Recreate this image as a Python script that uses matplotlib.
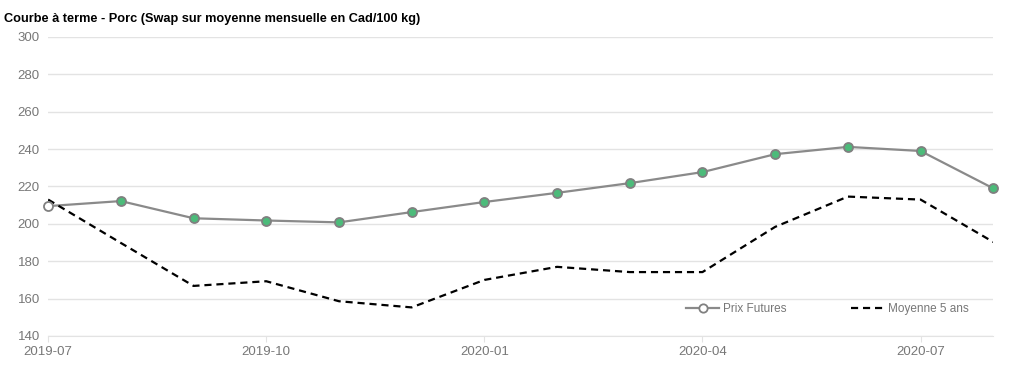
import matplotlib.pyplot as plt

months = ["2019-07", "2019-08", "2019-09", "2019-10", "2019-11", "2019-12", "2020-01",
          "2020-02", "2020-03", "2020-04", "2020-05", "2020-06", "2020-07", "2020-08"]
prix_futures = [209.5, 212.2, 203.0, 201.8, 200.8, 206.3, 211.7,
                216.6, 221.8, 227.7, 237.3, 241.2, 239.0, 219.0]
moyenne_5ans = [213.0, 189.8, 166.8, 169.3, 158.6, 155.3, 170.0,
                177.0, 174.2, 174.2, 198.4, 214.6, 213.0, 190.3]
tick_months = ["2019-07", "2019-10", "2020-01", "2020-04", "2020-07"]

plt.rcParams['font.family'] = ['Liberation Sans', 'DejaVu Sans']

fig = plt.figure(figsize=(10.24, 3.76), dpi=100)
ax = fig.add_axes([0.047, 0.1064, 0.923, 0.7952])

x = list(range(len(months)))

# futures line, first point hollow
ax.plot(x, prix_futures, color="#8a8a8a", lw=1.6, zorder=3, clip_on=False)
ax.plot(x[1:], prix_futures[1:], ls="none", marker="o", ms=6.5, mfc="#4cbb7a",
        mec="#808080", mew=1.3, zorder=4, clip_on=False)
ax.plot(x[:1], prix_futures[:1], ls="none", marker="o", ms=6.5, mfc="white",
        mec="#808080", mew=1.3, zorder=4, clip_on=False)
ax.plot(x, moyenne_5ans, color="black", lw=1.6, ls=(0, (3.2, 2.2)), zorder=3)

# legend proxies
ax.plot([], [], color="#8a8a8a", lw=1.6, marker="o", ms=6, mfc="white",
        mec="#808080", mew=1.3, label="Prix Futures")
ax.plot([], [], color="black", lw=1.6, ls=(0, (3.2, 2.2)), label="Moyenne 5 ans")
handles, labels = ax.get_legend_handles_labels()
ax.legend(handles[-2:], labels[-2:], loc="lower right", bbox_to_anchor=(0.985, 0.035),
          ncol=2, frameon=False, fontsize=8.5, labelcolor="#777777",
          columnspacing=5.5, handlelength=2.8, handletextpad=0.3)

ax.set_xlim(0, len(months) - 1)
ax.set_ylim(140, 300)
ax.set_yticks(range(140, 301, 20))
ax.set_xticks([months.index(m) for m in tick_months])
ax.set_xticklabels(tick_months)

ax.grid(axis="y", color="#e3e3e3", lw=1)
ax.set_axisbelow(True)
for s in ["top", "right", "left"]:
    ax.spines[s].set_visible(False)
ax.spines["bottom"].set_color("#e3e3e3")
ax.tick_params(axis="y", length=0, labelsize=9.5, labelcolor="#777777", pad=6)
ax.tick_params(axis="x", length=4, color="#e3e3e3", labelsize=9.5,
               labelcolor="#777777", pad=3)

fig.text(0.004, 0.95, "Courbe à terme - Porc (Swap sur moyenne mensuelle en Cad/100 kg)",
         fontsize=9.2, fontweight="bold", color="black", va="center")

fig.savefig("out.png", dpi=100)
